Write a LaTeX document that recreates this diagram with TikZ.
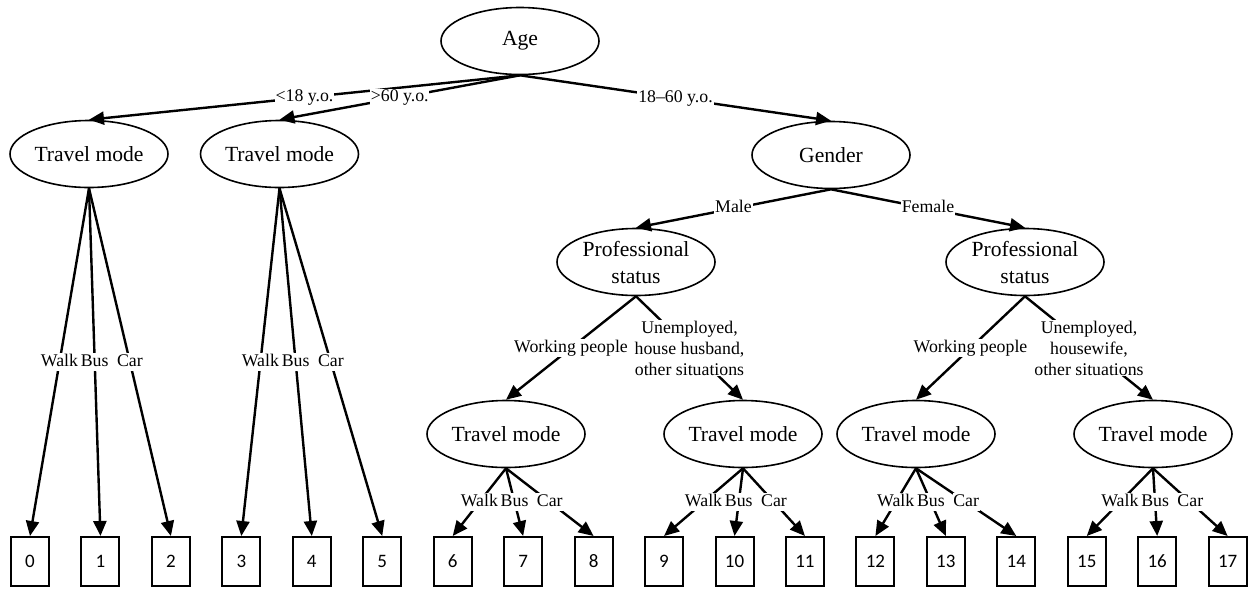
\documentclass[tikz,border=0pt]{standalone}
\usepackage{fontspec}
\setmainfont{Liberation Serif}
\newfontfamily\boxfont{Carlito}
\usetikzlibrary{arrows.meta,shapes.geometric}
\begin{document}
\begin{tikzpicture}[x=0.5pt,y=-0.5pt,
  dec/.style={ellipse,draw,line width=0.8pt,minimum width=79pt,minimum height=33.5pt,inner sep=0pt,align=center,font=\fontsize{10.8}{13.5}\selectfont},
  leaf/.style={rectangle,draw,line width=1pt,minimum width=19pt,minimum height=24.5pt,inner sep=0pt,text height=6.2pt,text depth=0pt,font=\boxfont\fontsize{9.5}{11}\selectfont},
  elab/.style={fill=white,inner sep=0.4pt,text height=6.3pt,text depth=1.9pt,font=\fontsize{8.9}{10.5}\selectfont},
  mlab/.style={fill=white,inner sep=0.4pt,align=center,font=\fontsize{8.9}{10.5}\selectfont},
  arr/.style={line width=1.2pt,-{Triangle[length=7.5pt,width=6.5pt]}}]
\useasboundingbox (0,0) rectangle (1249,591);

\node[dec] (age) at (520,41) {Age};
\node[dec] (tm1) at (89,154) {Travel mode};
\node[dec] (tm2) at (279.5,154) {Travel mode};
\node[dec] (gender) at (831,155) {Gender};
\node[dec] (psL) at (636,262) {Professional\\status};
\node[dec] (psR) at (1025,262) {Professional\\status};
\node[dec] (tm3) at (506,434) {Travel mode};
\node[dec] (tm4) at (743,434) {Travel mode};
\node[dec] (tm5) at (916,434) {Travel mode};
\node[dec] (tm6) at (1153,434) {Travel mode};

\foreach \i in {0,...,17}
  \node[leaf] (b\i) at ({30+70.45*\i},561.5) {\i};

\draw[arr] (age.south) -- node[elab]{<18 y.o.} (tm1.north);
\draw[arr] (age.south) -- node[elab]{>60 y.o.} (tm2.north);
\draw[arr] (age.south) -- node[elab]{18–60 y.o.} (gender.north);
\draw[arr] (gender.south) -- node[elab]{Male} (psL.north);
\draw[arr] (gender.south) -- node[elab]{Female} (psR.north);
\draw[arr] (psL.south) -- node[elab]{Working people} (tm3.north);
\draw[arr] (psL.south) -- node[mlab]{Unemployed,\\house husband,\\other situations} (tm4.north);
\draw[arr] (psR.south) -- node[elab]{Working people} (tm5.north);
\draw[arr] (psR.south) -- node[mlab]{Unemployed,\\housewife,\\other situations} (tm6.north);

\foreach \t/\a/\b/\c in {tm1/0/1/2, tm2/3/4/5, tm3/6/7/8, tm4/9/10/11, tm5/12/13/14, tm6/15/16/17} {
  \draw[arr] (\t.south) -- node[elab]{Walk} (b\a.north);
  \draw[arr] (\t.south) -- node[elab]{Bus} (b\b.north);
  \draw[arr] (\t.south) -- node[elab]{Car} (b\c.north);
}
\end{tikzpicture}
\end{document}
